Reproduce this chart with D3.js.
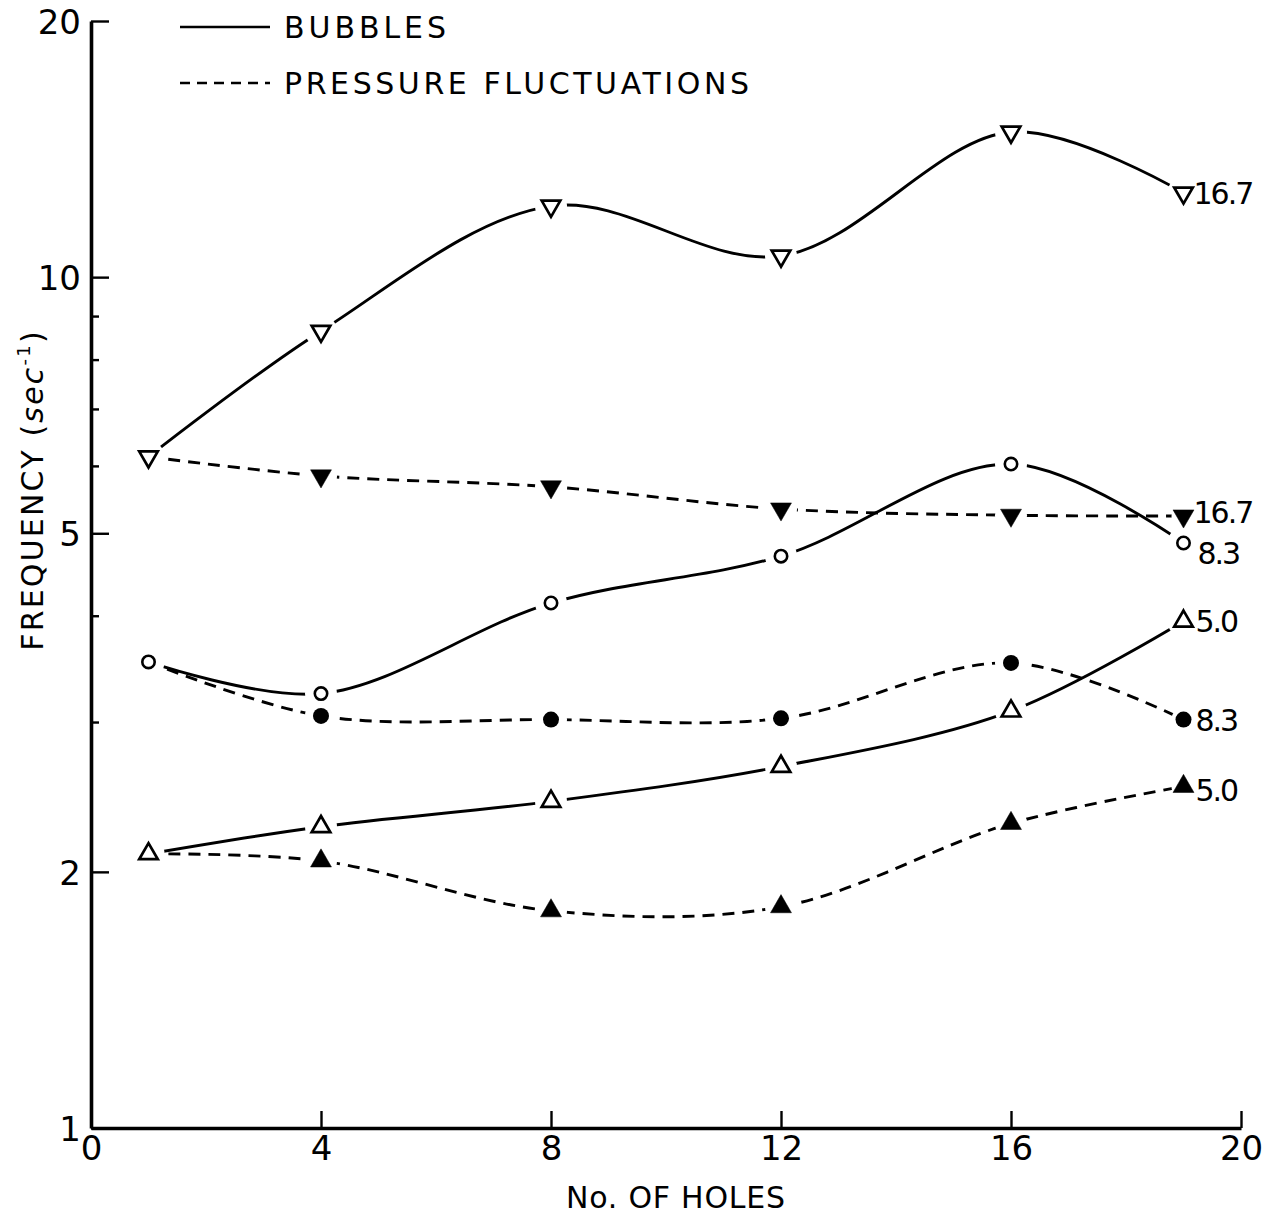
<!DOCTYPE html>
<html>
<head>
<meta charset="utf-8">
<script src="https://cdn.jsdelivr.net/npm/d3@7"></script>
<style>
  html, body { margin: 0; padding: 0; background: #fff; }
  svg { display: block; }
  text { font-family: "DejaVu Sans", sans-serif; fill: #000; }
</style>
</head>
<body>
<svg id="chart" width="1271" height="1215"></svg>
<script>
// Number of holes at which frequencies were measured
const holes = [1, 4, 8, 12, 16, 19];

// Bubble frequencies (sec^-1), solid lines, open markers
const bubbles167 = [6.15, 8.64, 12.12, 10.59, 14.81, 12.56];
const bubbles83  = [3.53, 3.24, 4.14, 4.70, 6.03, 4.87];
const bubbles50  = [2.10, 2.26, 2.42, 2.66, 3.09, 3.94];

// Pressure-fluctuation frequencies (sec^-1), dashed lines, filled markers
const pressure167 = [6.15, 5.84, 5.67, 5.34, 5.25, 5.24];
const pressure83  = [3.53, 3.05, 3.02, 3.03, 3.52, 3.02];
const pressure50  = [2.10, 2.06, 1.80, 1.82, 2.28, 2.52];

// Series tags printed at the line ends
const seriesTags = ["16.7", "16.7", "8.3", "8.3", "5.0", "5.0"];

// Axis ticks
const xTicks = [0, 4, 8, 12, 16, 20];
const yTicks = [1, 2, 5, 10, 20];
const yMinorTicks = [3, 4, 6, 7, 8, 9];

const legendLabels = ["BUBBLES", "PRESSURE FLUCTUATIONS"];

const svg = d3.select("#chart");
svg.append("rect").attr("width", 1271).attr("height", 1215).attr("fill", "#fff");

const x = d3.scaleLinear().domain([0, 20]).range([91, 1241]);
const y = d3.scaleLog().domain([1, 20]).range([1128, 21]);

const series = [
  { values: bubbles167, tag: seriesTags[0], dashed: false, shape: "triDown", filled: false, firstMarker: true, tagDy: 0, tagDx: 10 },
  { values: pressure167, tag: seriesTags[1], dashed: true, shape: "triDown", filled: true, firstMarker: false, tagDy: -4, tagDx: 10 },
  { values: bubbles83, tag: seriesTags[2], dashed: false, shape: "circle", filled: false, firstMarker: true, tagDy: 10, tagDx: 14 },
  { values: pressure83, tag: seriesTags[3], dashed: true, shape: "circle", filled: true, firstMarker: false, tagDy: 1, tagDx: 12 },
  { values: bubbles50, tag: seriesTags[4], dashed: false, shape: "triUp", filled: false, firstMarker: true, tagDy: 0, tagDx: 12 },
  { values: pressure50, tag: seriesTags[5], dashed: true, shape: "triUp", filled: true, firstMarker: false, tagDy: 4, tagDx: 12 }
];

const defs = svg.append("defs");

// Axes
const yAxis = d3.axisLeft(y).tickValues(yTicks).tickFormat(d3.format("d"))
  .tickSize(-18).tickSizeOuter(0).tickPadding(10);
const yMinor = d3.axisLeft(y).tickValues(yMinorTicks).tickFormat("")
  .tickSize(-8).tickSizeOuter(0);
const xAxis = d3.axisBottom(x).tickValues(xTicks).tickFormat(d3.format("d"))
  .tickSize(-17).tickSizeOuter(0).tickPadding(9);

const gy = svg.append("g").attr("transform", `translate(${x(0)},0)`).call(yAxis);
svg.append("g").attr("transform", `translate(${x(0)},0)`).call(yMinor)
  .call(g => g.select(".domain").remove());
const gx = svg.append("g").attr("transform", `translate(0,${y(1)})`).call(xAxis);

[gy, gx].forEach(g => {
  g.select(".domain").attr("stroke", "#000").attr("stroke-width", 3.6);
  g.selectAll(".tick text")
    .attr("font-family", "DejaVu Sans, sans-serif")
    .attr("font-size", 34).attr("fill", "#000");
});
svg.selectAll(".tick line").attr("stroke", "#000").attr("stroke-width", 2.4);
gy.selectAll(".tick text").attr("dy", "0.36em");
gx.selectAll(".tick text").attr("dy", "0.68em");

// Axis titles
svg.append("text")
  .attr("x", 566).attr("y", 1208)
  .attr("font-size", 30)
  .attr("textLength", 219).attr("lengthAdjust", "spacing")
  .text("No. OF HOLES");

const yt = svg.append("text")
  .attr("transform", "translate(43,490) rotate(-90)")
  .attr("text-anchor", "middle").attr("font-size", 30).attr("letter-spacing", 2.2);
yt.append("tspan").text("FREQUENCY (");
yt.append("tspan").attr("font-style", "italic").text("sec");
yt.append("tspan").attr("font-size", 18).attr("dy", -13).text("-1");
yt.append("tspan").attr("dy", 13).text(")");

// Markers
const symTri = d3.symbol().type(d3.symbolTriangle);
function markerPath(filled) {
  return symTri.size(filled ? 190 : 150)();
}

const line = d3.line()
  .x(d => x(d[0]))
  .y(d => y(d[1]))
  .curve(d3.curveCatmullRom.alpha(0.5));

series.forEach((s, i) => {
  const pts = holes.map((h, j) => [h, s.values[j]]);

  // each line breaks off around its own markers
  const mask = defs.append("mask").attr("id", "gap" + i)
    .attr("maskUnits", "userSpaceOnUse")
    .attr("x", 0).attr("y", 0).attr("width", 1271).attr("height", 1215);
  mask.append("rect").attr("width", 1271).attr("height", 1215).attr("fill", "#fff");
  mask.selectAll("circle").data(pts).join("circle")
    .attr("cx", d => x(d[0])).attr("cy", d => y(d[1]))
    .attr("r", (d, j) => (j === pts.length - 1 && s.dashed) ? 12 : 16)
    .attr("fill", "#000");

  svg.append("path")
    .datum(pts)
    .attr("d", line)
    .attr("fill", "none")
    .attr("stroke", "#000")
    .attr("stroke-width", 2.9)
    .attr("stroke-dasharray", s.dashed ? "12 8" : null)
    .attr("mask", `url(#gap${i})`);
});

series.forEach(s => {
  const pts = holes.map((h, j) => [h, s.values[j]]);
  const shown = s.firstMarker ? pts : pts.slice(1);
  const g = svg.append("g");
  shown.forEach(p => {
    const cx = x(p[0]), cy = y(p[1]);
    if (s.shape === "circle") {
      g.append("circle").attr("cx", cx).attr("cy", cy)
        .attr("r", s.filled ? 8 : 6.2)
        .attr("fill", s.filled ? "#000" : "#fff")
        .attr("stroke", "#000").attr("stroke-width", s.filled ? 0 : 2.6);
    } else {
      const rot = s.shape === "triDown" ? 180 : 0;
      g.append("path").attr("d", markerPath(s.filled))
        .attr("transform", `translate(${cx},${cy}) rotate(${rot})`)
        .attr("fill", s.filled ? "#000" : "#fff")
        .attr("stroke", "#000").attr("stroke-width", s.filled ? 0.5 : 2.7)
        .attr("stroke-linejoin", "miter");
    }
  });
  const last = pts[pts.length - 1];
  svg.append("text")
    .attr("x", x(last[0]) + s.tagDx)
    .attr("y", y(last[1]) + s.tagDy)
    .attr("dy", "0.36em")
    .attr("font-size", 30)
    .attr("letter-spacing", -2)
    .text(s.tag);
});

// Legend
const lg = svg.append("g");
const legendWidths = [162, 465];
[0, 1].forEach(k => {
  const ly = 27 + k * 56;
  lg.append("line")
    .attr("x1", 180).attr("x2", 270).attr("y1", ly).attr("y2", ly)
    .attr("stroke", "#000").attr("stroke-width", 2.6)
    .attr("stroke-dasharray", k === 1 ? "10 7" : null);
  lg.append("text")
    .attr("x", 284).attr("y", ly).attr("dy", "0.37em")
    .attr("font-size", 30)
    .attr("textLength", legendWidths[k]).attr("lengthAdjust", "spacing")
    .text(legendLabels[k]);
});
</script>
</body>
</html>
